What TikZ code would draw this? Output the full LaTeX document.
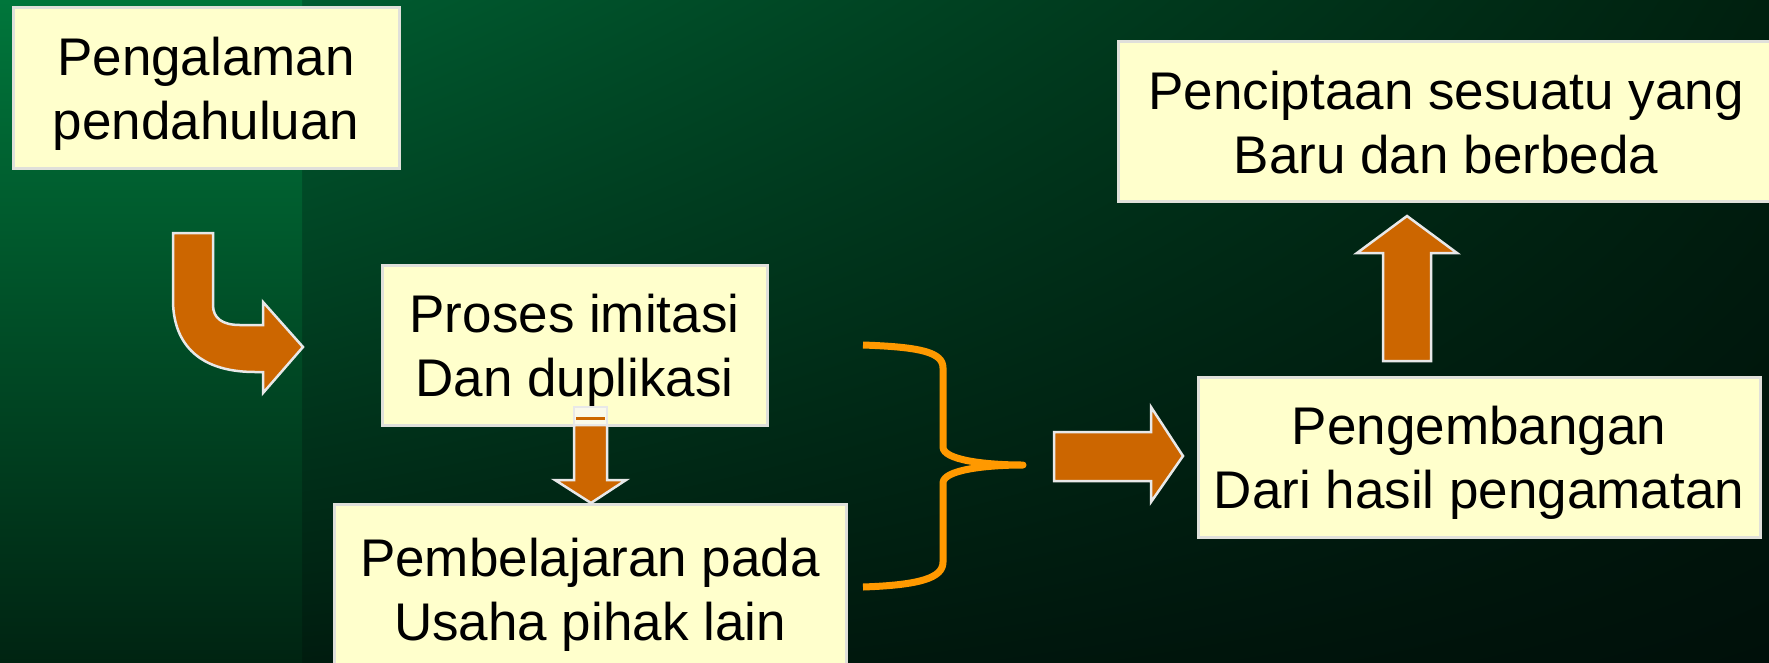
\documentclass[tikz,border=0pt]{standalone}
\usepackage{fontspec}
\setmainfont{Liberation Sans}
\usetikzlibrary{shadings}
\newcommand{\mytopstrut}{\rule{0pt}{50pt}}
\newcommand{\mybotstrut}{\rule[-9pt]{0pt}{9pt}}
\definecolor{boxfill}{HTML}{FFFFCC}
\definecolor{boxline}{HTML}{E0E0DA}
\definecolor{arrowfill}{HTML}{CC6600}
\definecolor{arrowline}{HTML}{E8E8E8}
\definecolor{braceorange}{HTML}{FF9900}
\definecolor{pale}{HTML}{FAFAEA}
\definecolor{stripTop}{HTML}{00763B}
\definecolor{stripMid}{HTML}{005F30}
\definecolor{stripBot}{HTML}{002412}
\definecolor{mainUL}{HTML}{005C30}
\definecolor{mainUR}{HTML}{00200F}
\definecolor{mainLL}{HTML}{001C0F}
\definecolor{mainLR}{HTML}{00100A}
\tikzset{
  txtbox/.style={draw=boxline, line width=3pt, fill=boxfill, align=center,
    font=\fontsize{53}{64}\selectfont, inner sep=0pt, text=black},
  blockarrow/.style={fill=arrowfill, draw=arrowline, line width=2.5pt, line join=miter},
  bracestyle/.style={draw=braceorange, line width=7pt, line join=round, line cap=butt}
}
\begin{document}
\begin{tikzpicture}[x=1pt,y=-1pt]
\useasboundingbox (0,0) rectangle (1769,662);
\clip (0,0) rectangle (1769,662);
% background
\shade[upper left=mainUL, upper right=mainUR, lower left=mainLL, lower right=mainLR]
  (302,0) rectangle (1769,662);
\shade[top color=stripTop, middle color=stripMid, bottom color=stripBot]
  (0,0) rectangle (302,662);

% boxes
\node[txtbox, minimum width=386pt, minimum height=161pt] (prior) at (206,87.5)
  {\mytopstrut Pengalaman\\pendahuluan\mybotstrut};
\node[txtbox, minimum width=385pt, minimum height=160pt] (imit) at (574.5,345)
  {\mytopstrut Proses imitasi\\Dan duplikasi\mybotstrut};
\node[txtbox, minimum width=512pt, minimum height=170pt] (learn) at (590,589)
  {\mytopstrut Pembelajaran pada\\Usaha pihak lain\mybotstrut};
\node[txtbox, minimum width=656pt, minimum height=160pt] (create) at (1446,121)
  {\mytopstrut Penciptaan sesuatu yang\\Baru dan berbeda\mybotstrut};
\node[txtbox, minimum width=562pt, minimum height=160pt] (develop) at (1479,457)
  {\mytopstrut Pengembangan\\Dari hasil pengamatan\mybotstrut};

% bent arrow
\draw[blockarrow] (173,233) -- (213,233) -- (213,305)
  .. controls (213,318) and (222,325) .. (240,325) -- (263,325) -- (263,302)
  -- (303,347) -- (263,393) -- (263,372) -- (255,372)
  .. controls (195,372) and (173,340) .. (173,300) -- cycle;

% down arrow
\draw[blockarrow] (574,425) -- (607,425) -- (607,480) -- (626,480) -- (591,503)
  -- (555,480) -- (574,480) -- cycle;
\draw[fill=pale, draw=arrowline, line width=2pt] (574,407) rectangle (607,425);
\draw[arrowfill, line width=3pt] (576,418) -- (605,418);

% brace
\draw[bracestyle] (863,345) .. controls (920,347) and (943,352) .. (943,368)
  -- (943,447) .. controls (943,460) and (985,465) .. (1023,465)
  .. controls (985,465) and (943,470) .. (943,483)
  -- (943,562) .. controls (943,578) and (920,585) .. (863,587);

% right arrow
\draw[blockarrow] (1054,432) -- (1151,432) -- (1151,407) -- (1183,456)
  -- (1151,502) -- (1151,481) -- (1054,481) -- cycle;

% up arrow
\draw[blockarrow] (1383,361) -- (1383,253) -- (1357,253) -- (1407,216)
  -- (1457,253) -- (1431,253) -- (1431,361) -- cycle;
\end{tikzpicture}
\end{document}
